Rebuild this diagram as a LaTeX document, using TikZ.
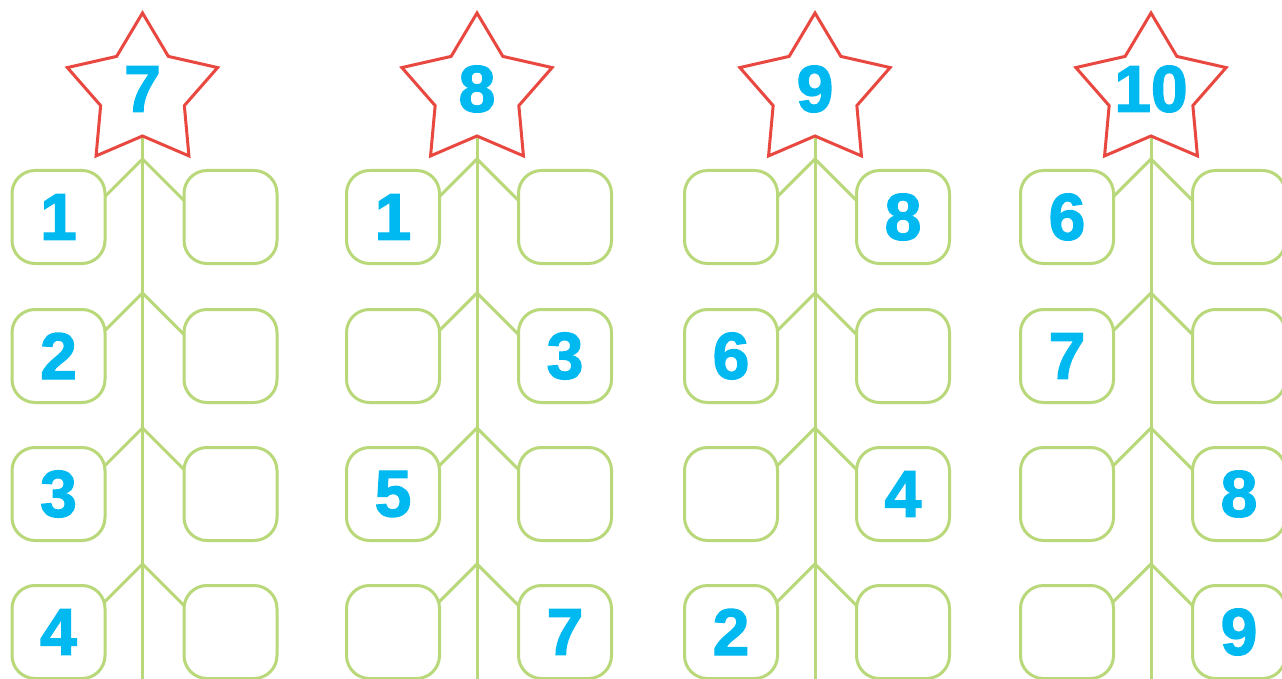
\documentclass[tikz,border=0pt]{standalone}
\usepackage{fontspec}
\setmainfont{Liberation Sans}[BoldFeatures={FakeBold=2}]
\usetikzlibrary{calc}
\definecolor{gr}{HTML}{B8D87A}
\definecolor{rd}{HTML}{E8483F}
\definecolor{bl}{HTML}{00B9F1}
\tikzset{
 numbox/.style={draw=gr, line width=3pt, rounded corners=23pt, fill=white,
   minimum width=93pt, minimum height=93pt, inner sep=0pt, text=bl,
   font=\fontsize{66}{66}\selectfont\bfseries},
 branch/.style={draw=gr, line width=3pt},
 starline/.style={draw=rd, line width=3pt, line join=miter},
 starnum/.style={text=bl, inner sep=0pt, font=\fontsize{66}{66}\selectfont\bfseries}
}
\begin{document}
\begin{tikzpicture}[x=1pt,y=-1pt]
\useasboundingbox (0,0) rectangle (1282,679);
\clip (0,0) rectangle (1282,679);
\fill[white] (0,0) rectangle (1282,679);
\foreach \c/\s/\n/\la/\ra/\lb/\rb/\lc/\rc/\ld/\rd in {
 1/142.5/7/1/{}/2/{}/3/{}/4/{},
 2/477/8/1/{}/{}/3/5/{}/{}/7,
 3/815/9/{}/8/6/{}/{}/4/2/{},
 4/1151/10/6/{}/7/{}/{}/8/{}/9}
{
 \coordinate (c\c top) at (\s,136);
 \coordinate (c\c bot) at (\s,690);
 \draw[branch] (c\c top) -- (c\c bot);
 \foreach \r/\ay in {1/159, 2/293, 3/428, 4/564} {
   \coordinate (c\c a\r) at (\s,\ay);
   \draw[branch] (c\c a\r) -- ++(-44,44);
   \draw[branch] (c\c a\r) -- ++(48,48);
 }
 \node[numbox] (c\c L1) at (\s-84,217) {\la};
 \node[numbox] (c\c R1) at (\s+88,217) {\ra};
 \node[numbox] (c\c L2) at (\s-84,356) {\lb};
 \node[numbox] (c\c R2) at (\s+88,356) {\rb};
 \node[numbox] (c\c L3) at (\s-84,494) {\lc};
 \node[numbox] (c\c R3) at (\s+88,494) {\rc};
 \node[numbox] (c\c L4) at (\s-84,632) {\ld};
 \node[numbox] (c\c R4) at (\s+88,632) {\rd};
 \begin{scope}[shift={(\s,92)}]
  \draw[starline] (270:79) -- (306:44) -- (342:79) -- (18:44) -- (54:79) -- (90:44)
    -- (126:79) -- (162:44) -- (198:79) -- (234:44) -- cycle;
 \end{scope}
 \node[starnum] (c\c star) at (\s,89) {\n};
}
\end{tikzpicture}
\end{document}
